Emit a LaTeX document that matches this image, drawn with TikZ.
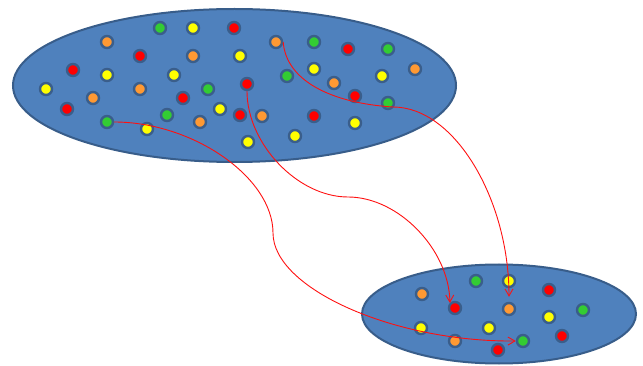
\documentclass[tikz,border=0pt]{standalone}
\usetikzlibrary{arrows.meta,shapes.geometric}
\definecolor{setfill}{HTML}{4F81BD}
\definecolor{setline}{HTML}{385D8A}
\definecolor{ring}{HTML}{3A5E8B}
\definecolor{dg}{HTML}{33CC33}
\definecolor{dy}{HTML}{FFFF00}
\definecolor{dr}{HTML}{FF0000}
\definecolor{do}{HTML}{FF9933}
\definecolor{conn}{HTML}{FF1010}
\tikzset{
  setshape/.style={ellipse, draw=setline, fill=setfill, line width=2pt, inner sep=0pt},
  dot/.style={circle, draw=ring, line width=2.4pt, minimum size=12pt, inner sep=0pt},
  link/.style={draw=conn, line width=0.9pt, -{Straight Barb[length=7pt,width=8pt]}}
}
\begin{document}
\begin{tikzpicture}[x=1pt,y=-1pt]
\useasboundingbox (0,0) rectangle (643,366);
% sets
\node[setshape, minimum width=443pt, minimum height=153pt] (big) at (234.5,85.5) {};
\node[setshape, minimum width=274pt, minimum height=99pt] (small) at (499,314) {};
% dots in the big set
\node[dot, fill=dg] (b1) at (160,28) {};
\node[dot, fill=dy] (b2) at (193,28) {};
\node[dot, fill=dr] (b3) at (234,28) {};
\node[dot, fill=do] (b4) at (107,42) {};
\node[dot, fill=dr] (b5) at (140,56) {};
\node[dot, fill=do] (b6) at (193,56) {};
\node[dot, fill=dr] (b7) at (73,70) {};
\node[dot, fill=dy] (b8) at (107,75) {};
\node[dot, fill=dy] (b9) at (174,75) {};
\node[dot, fill=dy] (b10) at (46,89) {};
\node[dot, fill=do] (b11) at (140,89) {};
\node[dot, fill=dg] (b12) at (208,89) {};
\node[dot, fill=do] (b13) at (93,98) {};
\node[dot, fill=dr] (b14) at (183,98) {};
\node[dot, fill=dr] (b15) at (67,109) {};
\node[dot, fill=dy] (b16) at (220,109) {};
\node[dot, fill=dg] (b17) at (167,115) {};
\node[dot, fill=do] (b18) at (200,122) {};
\node[dot, fill=dg] (b19) at (107,122) {};
\node[dot, fill=dy] (b20) at (147,129) {};
\node[dot, fill=dr] (b21) at (240,115) {};
\node[dot, fill=do] (b22) at (276,42) {};
\node[dot, fill=dg] (b23) at (314,42) {};
\node[dot, fill=dr] (b24) at (348,49) {};
\node[dot, fill=dg] (b25) at (388,49) {};
\node[dot, fill=dy] (b26) at (240,56) {};
\node[dot, fill=dy] (b27) at (314,69) {};
\node[dot, fill=dg] (b28) at (287,76) {};
\node[dot, fill=do] (b29) at (415,69) {};
\node[dot, fill=dy] (b30) at (382,76) {};
\node[dot, fill=do] (b31) at (334,83) {};
\node[dot, fill=dr] (b32) at (247,84) {};
\node[dot, fill=dr] (b33) at (355,96) {};
\node[dot, fill=dg] (b34) at (388,103) {};
\node[dot, fill=do] (b35) at (262,116) {};
\node[dot, fill=dr] (b36) at (314,116) {};
\node[dot, fill=dy] (b37) at (355,123) {};
\node[dot, fill=dy] (b38) at (248,142) {};
\node[dot, fill=dy] (b39) at (295,136) {};
% dots in the small set
\node[dot, fill=dg] (s1) at (476,281) {};
\node[dot, fill=dy] (s2) at (509,281) {};
\node[dot, fill=dr] (s3) at (549,290) {};
\node[dot, fill=do] (s4) at (422,294) {};
\node[dot, fill=dr] (s5) at (455,308) {};
\node[dot, fill=do] (s6) at (509,309) {};
\node[dot, fill=dg] (s7) at (583,310) {};
\node[dot, fill=dy] (s8) at (549,317) {};
\node[dot, fill=dy] (s9) at (421,328) {};
\node[dot, fill=dy] (s10) at (489,328) {};
\node[dot, fill=dr] (s11) at (562,336) {};
\node[dot, fill=do] (s12) at (455,341) {};
\node[dot, fill=dg] (s13) at (523,341) {};
\node[dot, fill=dr] (s14) at (498,350) {};
% connectors
\coordinate (m1) at (273,233);
\coordinate (m2) at (348,197);
\coordinate (m3) at (393,107);
\draw[link] (b19.east) .. controls (193,122) and (273,177.5) .. (m1)
  .. controls (273,288.5) and (394,342) .. (s13.west);
\draw[link] (b32.south) .. controls (247,143.5) and (297.5,197) .. (m2)
  .. controls (398.5,197) and (449,249.5) .. (s5.north west);
\draw[link, shorten >=5pt] (b22.east) .. controls (286,80) and (330,103) .. (m3)
  .. controls (455,107) and (509,200) .. (s6.north);
\end{tikzpicture}
\end{document}
